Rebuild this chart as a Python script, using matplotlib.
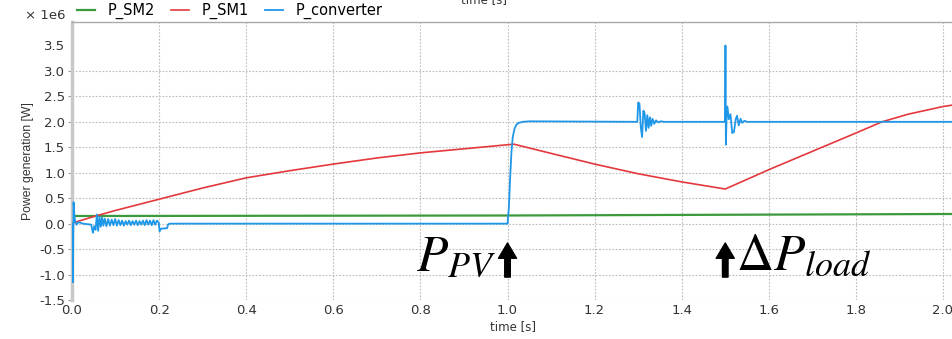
#%%
import matplotlib
matplotlib.use("Agg")
import matplotlib.pyplot as plt

#%%
# values in units of 1e6 W
t_conv = [0.0, 0.002, 0.0035, 0.005, 0.007, 0.010, 0.015, 0.025, 0.035, 0.044,
          0.048, 0.051, 0.054, 0.057, 0.060, 0.063, 0.066, 0.069, 0.072, 0.075,
          0.079, 0.083, 0.087, 0.091, 0.095, 0.099, 0.103, 0.107, 0.111, 0.115,
          0.119, 0.123, 0.127, 0.131, 0.135, 0.139, 0.143, 0.147, 0.151, 0.155,
          0.159, 0.163, 0.167, 0.171, 0.175, 0.179, 0.183, 0.187, 0.191, 0.195,
          0.199, 0.201, 0.204, 0.218, 0.221, 0.225,
          1.0, 1.003, 1.006, 1.009, 1.012, 1.016, 1.02, 1.026, 1.035, 1.05,
          1.298, 1.300, 1.303, 1.306, 1.309, 1.312, 1.315, 1.318, 1.321, 1.324,
          1.327, 1.330, 1.333, 1.337, 1.341, 1.346, 1.352, 1.36,
          1.4995, 1.5005, 1.5015, 1.503, 1.505, 1.508, 1.512, 1.516, 1.520, 1.524,
          1.527, 1.531, 1.535, 1.539, 1.544, 1.55, 2.03]
p_conv = [0.0, -1.15, 0.42, 0.2, 0.05, -0.02, 0.03, 0.0, -0.01, -0.02,
          -0.18, -0.05, -0.12, 0.18, -0.14, 0.14, -0.06, 0.12, -0.04, 0.10,
          -0.05, 0.09, -0.04, 0.08, -0.03, 0.09, -0.04, 0.07, -0.03, 0.06,
          -0.04, 0.05, -0.02, 0.06, -0.03, 0.05, -0.02, 0.06, -0.03, 0.05,
          -0.02, 0.06, -0.03, 0.07, -0.02, 0.06, -0.03, 0.07, -0.02, 0.06,
          0.02, -0.15, -0.10, -0.09, -0.01, 0.0,
          0.0, 0.3, 0.9, 1.4, 1.7, 1.86, 1.94, 1.98, 2.0, 2.01,
          2.0, 2.38, 2.36, 1.9, 1.7, 2.22, 2.16, 1.82, 2.13, 1.88,
          2.09, 1.92, 2.06, 1.96, 2.03, 1.99, 2.01, 2.0,
          2.0, 3.5, 1.55, 2.1, 2.3, 2.05, 2.15, 1.78, 1.8, 2.05,
          2.12, 1.93, 2.06, 1.98, 2.02, 2.0, 2.0]

t_sm1 = [0.004, 0.05, 0.1, 0.15, 0.2, 0.3, 0.4, 0.5, 0.6, 0.7, 0.8, 0.9, 1.0,
         1.015, 1.1, 1.2, 1.3, 1.4, 1.5, 1.6, 1.7, 1.8, 1.86, 1.92, 2.0, 2.03]
p_sm1 = [0.02, 0.14, 0.26, 0.37, 0.48, 0.7, 0.9, 1.04, 1.17, 1.29, 1.39, 1.47, 1.55,
         1.56, 1.38, 1.17, 0.98, 0.82, 0.68, 1.06, 1.42, 1.78, 2.0, 2.15, 2.3, 2.34]

t_sm2 = [0.006, 1.0, 2.03]
p_sm2 = [0.15, 0.16, 0.19]

xticks = [0.0, 0.2, 0.4, 0.6, 0.8, 1.0, 1.2, 1.4, 1.6, 1.8, 2.0]
yticks = [-1.5, -1.0, -0.5, 0.0, 0.5, 1.0, 1.5, 2.0, 2.5, 3.0, 3.5]

#%%
plt.rcParams['mathtext.fontset'] = 'stix'
fig = plt.figure(figsize=(9.53, 3.39), dpi=100)
ax = fig.add_axes([0.0756, 0.115, 0.9244, 0.82])

ax.plot(t_sm2, p_sm2, color='#3c9a3c', lw=1.6, label='P_SM2', zorder=3)
ax.plot(t_sm1, p_sm1, color='#e4383d', lw=1.2, label='P_SM1', zorder=3)
ax.plot(t_conv, p_conv, color='#1f97e8', lw=1.3, label='P_converter', zorder=3)

ax.set_xlim(0, 2.023)
ax.set_ylim(-1.5, 3.96)
ax.set_xticks(xticks)
ax.set_yticks(yticks)
ax.set_xticklabels(['%.1f' % v for v in xticks])
ax.set_yticklabels(['%.1f' % v for v in yticks])
ax.tick_params(axis='x', length=0, labelsize=9.5, colors='#333333', pad=3)
ax.tick_params(axis='y', length=3, labelsize=9.5, colors='#999999', labelcolor='#333333', pad=2)
ax.yaxis.get_major_ticks()[-1].tick1line.set_visible(False)

ax.grid(True, linestyle=(0, (1.5, 1.5)), color='#bbbbbb', lw=0.8)
ax.yaxis.get_gridlines()[-1].set_visible(False)

for s in ['right', 'bottom']:
    ax.spines[s].set_visible(False)
ax.spines['left'].set_color('#c8c8c8')
ax.spines['left'].set_linewidth(2.5)
ax.spines['top'].set_color('#aaaaaa')
ax.spines['top'].set_linewidth(1.0)

ax.set_xlabel('time [s]', fontsize=8.5, color='#333333', labelpad=2)
ax.set_ylabel('Power generation [W]', fontsize=8.8, color='#333333', labelpad=4,
              family=['Liberation Sans'])
fig.text(0.508, 1.0, 'time [s]', fontsize=8.5, color='#333333', ha='center', va='center')
fig.text(0.026, 0.955, '× 1e6', fontsize=9.5, color='#333333', va='center')

ax.legend(loc='center left', bbox_to_anchor=(0.006, 1.04), ncol=3, frameon=False,
          fontsize=10.5, handlelength=1.2, handletextpad=0.9, columnspacing=1.1,
          borderaxespad=0, borderpad=0)

# event markers
arrow = dict(width=4, headwidth=13, headlength=11, color='black')
ax.annotate('', xy=(1.0, -0.38), xytext=(1.0, -1.05), arrowprops=arrow)
ax.annotate('', xy=(1.5, -0.38), xytext=(1.5, -1.05), arrowprops=arrow)
ax.text(0.975, -0.92, '$P_{PV}$', fontsize=37, ha='right', va='baseline')
ax.text(1.525, -0.92, r'$\Delta P_{load}$', fontsize=37, ha='left', va='baseline')

fig.savefig('out.png', dpi=100)
